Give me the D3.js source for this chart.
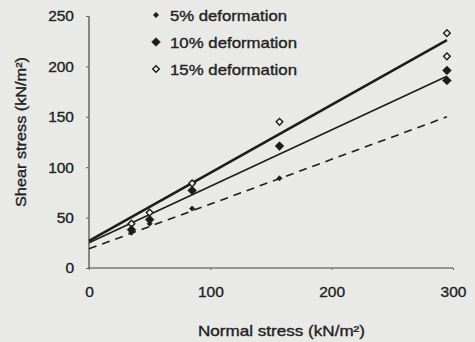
<!DOCTYPE html>
<html>
<head>
<meta charset="utf-8">
<script src="https://cdn.jsdelivr.net/npm/d3@7"></script>
<style>
  html, body { margin: 0; padding: 0; background: #e9e9e7; }
  svg { display: block; }
  text { font-family: "Liberation Sans", Arial, sans-serif; fill: #222; stroke: #222; stroke-width: 0.35; }
</style>
</head>
<body>
<svg id="chart" width="475" height="342"></svg>
<script>
// Normal stress levels (kN/m²)
const normalStress = [35, 50, 85, 157, 295, 295];

// Shear stress at each deformation level (kN/m²); null = no reading
const shear5  = [35, 44, 59, 89, null, null];
const shear10 = [38, 48, 77, 121, 196, 186];
const shear15 = [44, 55, 84, 145, 233, 210];

// Linear fits: [intercept, slope]
const fit5  = [19, 0.444];
const fit10 = [25, 0.56];
const fit15 = [27, 0.675];

const xTicks = [0, 100, 200, 300];
const yTicks = [0, 50, 100, 150, 200, 250];
const seriesNames = ["5% deformation", "10% deformation", "15% deformation"];

const svg = d3.select("#chart");
const x = d3.scaleLinear().domain([0, 300]).range([89, 453]);
const y = d3.scaleLinear().domain([0, 250]).range([268, 16]);

// Axes
const yAxis = d3.axisLeft(y).tickValues(yTicks).tickSize(3).tickPadding(12);
const xAxis = d3.axisBottom(x).tickValues(xTicks).tickSize(2).tickPadding(16);

const gy = svg.append("g").attr("transform", `translate(${x(0)},0)`).call(yAxis);
const gx = svg.append("g").attr("transform", `translate(0,${y(0)})`).call(xAxis);
[gx, gy].forEach(g => {
  g.select(".domain").attr("stroke", "#444").attr("stroke-width", 1.2);
  g.selectAll(".tick line").attr("stroke", "#666");
  g.selectAll(".tick text").attr("font-size", 15.5).attr("fill", "#222")
    .style("font-family", "'Liberation Sans', Arial, sans-serif");
});
gy.select(".domain").attr("d", `M0,${y(250)}V${y(0)}`);
gx.select(".domain").attr("d", `M${x(0)},0H${x(300)}`);

// Fitted lines
const xMax = d3.max(normalStress);
const lineGen = d3.line().x(d => x(d[0])).y(d => y(d[1]));
function drawFit(fit, width, dash) {
  const pts = [[0, fit[0]], [xMax, fit[0] + fit[1] * xMax]];
  svg.append("path").attr("d", lineGen(pts))
    .attr("fill", "none").attr("stroke", "#1c1c1c")
    .attr("stroke-width", width)
    .attr("stroke-dasharray", dash || null);
}
drawFit(fit5, 1.6, "8,6");
drawFit(fit10, 1.6);
drawFit(fit15, 2.6);

// Markers: squares turned 45° so they read as even diamonds
const square = d3.symbol().type(d3.symbolSquare);
const styles = {
  s5:  { size: 14, filled: true },
  s10: { size: 38, filled: true },
  s15: { size: 22, filled: false }
};
function marker(sel, st) {
  sel.attr("d", square.size(st.size)())
    .attr("fill", st.filled ? "#1c1c1c" : "#f2f2f0")
    .attr("stroke", "#1c1c1c")
    .attr("stroke-width", st.filled ? 0.6 : 1.4);
}
function drawPoints(vals, st) {
  const pts = normalStress.map((n, i) => [n, vals[i]]).filter(d => d[1] != null);
  svg.append("g").selectAll("path").data(pts).join("path")
    .attr("transform", d => `translate(${x(d[0])},${y(d[1])}) rotate(45)`)
    .call(marker, st);
}
drawPoints(shear15, styles.s15);
drawPoints(shear10, styles.s10);
drawPoints(shear5, styles.s5);

// Legend
const legend = svg.append("g");
const legendRows = [
  { name: seriesNames[0], st: styles.s5,  len: 117 },
  { name: seriesNames[1], st: styles.s10, len: 127 },
  { name: seriesNames[2], st: styles.s15, len: 127 }
];
legendRows.forEach((r, i) => {
  const yy = 15 + i * 27;
  legend.append("path")
    .attr("transform", `translate(156,${yy}) rotate(45)`)
    .call(marker, r.st);
  legend.append("text")
    .attr("x", 170).attr("y", yy + 5.5)
    .attr("font-size", 15)
    .attr("textLength", r.len).attr("lengthAdjust", "spacingAndGlyphs")
    .text(r.name);
});

// Axis titles
svg.append("text")
  .attr("x", 198).attr("y", 336)
  .attr("font-size", 15)
  .attr("textLength", 167).attr("lengthAdjust", "spacingAndGlyphs")
  .text("Normal stress (kN/m²)");
svg.append("text")
  .attr("transform", "translate(26,207) rotate(-90)")
  .attr("font-size", 14.5)
  .attr("textLength", 150).attr("lengthAdjust", "spacingAndGlyphs")
  .text("Shear stress (kN/m²)");
</script>
</body>
</html>
